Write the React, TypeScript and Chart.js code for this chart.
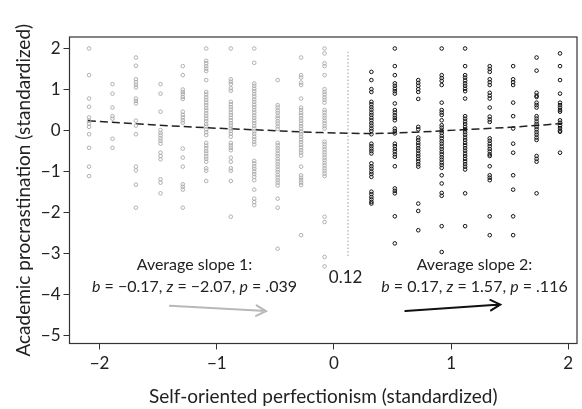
import React, { useEffect, useRef } from 'react';
import { Chart, registerables } from 'chart.js';

Chart.register(...registerables);

// ---------- data ----------
const grayX = [-2.09, -1.89, -1.69, -1.48, -1.29, -1.09, -0.88, -0.68, -0.48, -0.28, -0.08];
const grayY = [
  [1.99, 1.34, 0.77, 0.57, 0.31, 0.23, 0.16, 0.08, -0.10, -0.43, -0.89, -1.12],
  [1.12, 0.89, 0.55, 0.34, 0.28, -0.21, -0.43],
  [1.77, 1.57, 1.24, 1.17, 1.10, 1.04, 0.77, 0.71, 0.65, 0.23, 0.11, -0.10, -0.89, -0.98, -1.33, -1.89],
  [1.12, 0.89, 0.45, 0.0, -0.07, -0.13, -0.20, -0.26, -0.33, -0.55, -0.63, -0.71, -1.20, -1.28, -1.54],
  [1.56, 1.34, 0.99, 0.93, 0.88, 0.81, 0.76, 0.45, 0.37, 0.31, 0.24, 0.18, -0.45, -0.67, -0.89, -1.32, -1.38, -1.45, -1.89],
  [1.99, 1.69, 1.63, 1.56, 1.50, 1.44, 1.22, 0.93, 0.87, 0.80, 0.74, 0.67, 0.61, 0.54, 0.48, 0.41, 0.35, 0.28, 0.22, 0.15, 0.09, 0.02, -0.05, -0.12, -0.31, -0.38, -0.44, -0.51, -0.57, -0.64, -0.70, -0.77, -0.93, -0.99, -1.24],
  [1.99, 1.24, 1.18, 1.12, 1.02, 0.96, 0.69, 0.63, 0.56, 0.50, 0.43, 0.37, 0.30, 0.24, 0.17, 0.11, 0.04, -0.02, -0.09, -0.16, -0.31, -0.37, -0.43, -0.49, -0.67, -0.77, -0.93, -0.99, -1.24, -2.11],
  [1.99, 1.64, 1.14, 1.08, 1.01, 0.95, 0.88, 0.82, 0.75, 0.69, 0.62, 0.56, 0.49, 0.43, 0.36, 0.30, 0.23, 0.17, 0.10, 0.04, -0.03, -0.09, -0.16, -0.22, -0.29, -0.35, -0.75, -0.81, -0.88, -0.94, -1.01, -1.07, -1.14, -1.22, -1.45, -1.67, -1.75, -1.83],
  [1.22, 0.61, 0.55, 0.48, 0.42, 0.35, 0.29, 0.22, 0.16, 0.09, 0.03, -0.31, -0.37, -0.44, -0.50, -0.57, -0.63, -0.70, -0.76, -0.83, -0.89, -0.96, -1.02, -1.09, -1.15, -1.22, -1.28, -1.35, -1.67, -1.89, -2.89],
  [1.77, 1.34, 1.28, 1.16, 1.10, 0.77, 0.55, 0.49, 0.42, 0.36, 0.29, 0.23, 0.16, 0.10, 0.03, -0.03, -0.10, -0.16, -0.23, -0.29, -0.36, -0.42, -0.49, -0.55, -0.62, -0.89, -1.10, -1.16, -1.22, -1.28, -1.34, -2.56],
  [1.99, 1.87, 1.63, 1.56, 1.34, 1.00, 0.93, 0.87, 0.80, 0.74, 0.67, 0.49, 0.43, 0.36, 0.30, 0.23, 0.17, 0.10, 0.04, -0.28, -0.34, -0.41, -0.47, -0.54, -0.60, -0.67, -0.73, -0.80, -0.86, -0.93, -0.99, -1.06, -1.12, -2.11, -2.24, -3.09, -3.32],
];

const blackX = [0.32, 0.52, 0.72, 0.92, 1.12, 1.33, 1.53, 1.73, 1.93];
const blackY = [
  [1.42, 1.22, 1.00, 0.93, 0.69, 0.63, 0.56, 0.50, 0.43, 0.37, 0.30, 0.24, 0.17, 0.11, 0.04, -0.02, -0.10, -0.33, -0.39, -0.45, -0.51, -0.57, -0.81, -0.88, -0.94, -1.01, -1.07, -1.14, -1.50, -1.56, -1.63, -1.69, -1.75, -1.79],
  [1.99, 1.56, 1.34, 1.14, 1.08, 1.01, 0.95, 0.89, 0.65, 0.49, 0.43, 0.36, 0.30, 0.24, 0.04, -0.02, -0.08, -0.33, -0.39, -0.46, -0.52, -0.59, -0.65, -0.88, -1.42, -1.48, -1.54, -2.10, -2.76],
  [1.22, 1.15, 1.08, 1.00, 0.93, 0.76, 0.08, 0.02, -0.18, -0.24, -0.31, -0.37, -0.44, -0.50, -0.57, -0.63, -0.70, -0.76, -0.83, -0.89, -1.79, -1.97, -2.44],
  [1.99, 1.34, 1.27, 1.20, 1.10, 0.67, 0.49, 0.43, 0.37, 0.24, 0.12, 0.06, -0.01, -0.07, -0.14, -0.20, -0.27, -0.33, -0.40, -0.46, -0.53, -0.59, -0.66, -0.72, -0.79, -0.85, -0.92, -1.10, -1.30, -1.53, -1.60, -2.34, -2.97],
  [1.99, 1.56, 1.34, 1.28, 1.21, 1.14, 1.08, 1.01, 0.95, 0.77, 0.34, 0.28, 0.21, 0.15, 0.08, 0.02, -0.05, -0.11, -0.18, -0.24, -0.31, -0.37, -0.44, -0.50, -0.57, -0.63, -0.70, -0.76, -0.83, -0.89, -0.96, -1.54, -2.34],
  [1.56, 1.49, 1.42, 1.24, 1.17, 1.10, 0.91, 0.84, 0.77, 0.55, 0.33, 0.26, 0.20, -0.20, -0.26, -0.33, -0.39, -0.46, -0.52, -0.59, -0.63, -0.88, -1.10, -1.16, -1.22, -2.10, -2.56],
  [1.56, 1.24, 1.17, 1.10, 0.67, 0.34, 0.04, -0.33, -0.55, -1.10, -1.45, -2.10, -2.56],
  [1.77, 1.45, 0.91, 0.84, 0.81, 0.67, 0.61, 0.55, 0.34, 0.28, 0.21, 0.15, 0.08, 0.02, -0.05, -0.11, -0.18, -0.24, -0.63, -0.70, -0.77, -1.54],
  [1.87, 1.56, 1.22, 0.89, 0.67, 0.61, 0.55, 0.49, 0.45, 0.24, 0.18, 0.11, 0.05, -0.01, -0.04, -0.55],
];

// fitted (dashed) curve
const curveX = [-2.1, -1.6, -1.1, -0.6, -0.1, 0.3, 0.7, 1.1, 1.5, 1.95];
const curveY = [0.23, 0.14, 0.06, 0.0, -0.06, -0.08, -0.05, 0.01, 0.07, 0.16];

// cut point line
const cutX = 0.12;
const cutYFrom = -3.07;
const cutYTo = 1.91;
const cutLabel = '0.12';

const xTicks = [-2, -1, 0, 1, 2];
const yTicks = [-5, -4, -3, -2, -1, 0, 1, 2];
const xTitle = 'Self-oriented perfectionism (standardized)';
const yTitle = 'Academic procrastination (standardized)';

const slope1Head = 'Average slope 1:';
const slope1Stats: [string, boolean][] = [['b', true], [' = −0.17, ', false], ['z', true], [' = −2.07, ', false], ['p', true], [' = .039', false]];
const slope2Head = 'Average slope 2:';
const slope2Stats: [string, boolean][] = [['b', true], [' = 0.17, ', false], ['z', true], [' = 1.57, ', false], ['p', true], [' = .116', false]];

// annotation anchors (data coordinates)
const note1 = { x: -1.19, yHead: -3.29, yStats: -3.83 };
const note2 = { x: 1.20, yHead: -3.29, yStats: -3.83 };
const cutLabelPos = { x: 0.10, y: -3.59 };
const arrow1 = { x1: -1.40, y1: -4.28, x2: -0.58, y2: -4.41 };
const arrow2 = { x1: 0.61, y1: -4.41, x2: 1.42, y2: -4.25 };

const FONT = 'Lato, "Open Sans", sans-serif';
const NOTE_SIZE = 16;

function fmt(v: number) {
  return v < 0 ? '−' + Math.abs(v) : String(v);
}

const annotPlugin = {
  id: 'annot',
  beforeDatasetsDraw(chart: any) {
    const { ctx, chartArea } = chart;
    ctx.save();
    ctx.strokeStyle = '#333';
    ctx.lineWidth = 1.2;
    ctx.strokeRect(chartArea.left, chartArea.top, chartArea.right - chartArea.left, chartArea.bottom - chartArea.top);
    ctx.restore();
  },
  afterDatasetsDraw(chart: any) {
    const { ctx } = chart;
    const xs = chart.scales.x;
    const ys = chart.scales.y;
    const px = (v: number) => xs.getPixelForValue(v);
    const py = (v: number) => ys.getPixelForValue(v);
    ctx.save();
    ctx.fillStyle = '#222';
    ctx.textBaseline = 'middle';

    const drawCentered = (t: string, x: number, y: number) => {
      ctx.font = `${NOTE_SIZE}px ${FONT}`;
      ctx.textAlign = 'center';
      ctx.fillText(t, px(x), py(y));
    };
    const drawSegments = (segs: [string, boolean][], x: number, y: number) => {
      ctx.textAlign = 'left';
      let total = 0;
      const widths = segs.map(([t, it]) => {
        ctx.font = `${it ? 'italic ' : ''}${NOTE_SIZE}px ${FONT}`;
        const w = ctx.measureText(t).width;
        total += w;
        return w;
      });
      let cx = px(x) - total / 2;
      segs.forEach(([t, it], i) => {
        ctx.font = `${it ? 'italic ' : ''}${NOTE_SIZE}px ${FONT}`;
        ctx.fillText(t, cx, py(y));
        cx += widths[i];
      });
    };

    drawCentered(slope1Head, note1.x, note1.yHead);
    drawSegments(slope1Stats, note1.x, note1.yStats);
    drawCentered(slope2Head, note2.x, note2.yHead);
    drawSegments(slope2Stats, note2.x, note2.yStats);
    ctx.font = `17px ${FONT}`;
    ctx.textAlign = 'center';
    ctx.fillText(cutLabel, px(cutLabelPos.x), py(cutLabelPos.y));

    const arrow = (a: any, color: string) => {
      const x1 = px(a.x1), y1 = py(a.y1), x2 = px(a.x2), y2 = py(a.y2);
      const ang = Math.atan2(y2 - y1, x2 - x1);
      const hl = 11;
      ctx.strokeStyle = color;
      ctx.lineWidth = 2;
      ctx.lineCap = 'round';
      ctx.beginPath();
      ctx.moveTo(x1, y1);
      ctx.lineTo(x2, y2);
      ctx.moveTo(x2 - hl * Math.cos(ang - 0.5), y2 - hl * Math.sin(ang - 0.5));
      ctx.lineTo(x2, y2);
      ctx.lineTo(x2 - hl * Math.cos(ang + 0.5), y2 - hl * Math.sin(ang + 0.5));
      ctx.stroke();
    };
    arrow(arrow1, '#b8b8b8');
    arrow(arrow2, '#111');
    ctx.restore();
  },
};

export default function App() {
  const ref = useRef<HTMLCanvasElement>(null);
  useEffect(() => {
    const grayPts: { x: number; y: number }[] = [];
    grayX.forEach((x, i) => grayY[i].forEach((y) => grayPts.push({ x, y })));
    const blackPts: { x: number; y: number }[] = [];
    blackX.forEach((x, i) => blackY[i].forEach((y) => blackPts.push({ x, y })));
    const curvePts = curveX.map((x, i) => ({ x, y: curveY[i] }));

    const chart = new Chart(ref.current!, {
      type: 'scatter',
      data: {
        datasets: [
          {
            data: grayPts,
            pointRadius: 1.8,
            pointBorderWidth: 0.9,
            borderColor: '#a8a8a8',
            backgroundColor: 'transparent',
          } as any,
          {
            data: blackPts,
            pointRadius: 1.8,
            pointBorderWidth: 1,
            borderColor: '#111',
            backgroundColor: 'transparent',
          } as any,
          {
            type: 'line',
            data: [{ x: cutX, y: cutYFrom }, { x: cutX, y: cutYTo }],
            borderColor: '#999',
            borderWidth: 1,
            borderDash: [1.5, 2],
            pointRadius: 0,
            fill: false,
          } as any,
          {
            type: 'line',
            data: curvePts,
            borderColor: '#222',
            borderWidth: 1.5,
            borderDash: [8, 4],
            pointRadius: 0,
            fill: false,
            cubicInterpolationMode: 'monotone',
          } as any,
        ],
      },
      options: {
        animation: false,
        responsive: false,
        devicePixelRatio: 1,
        layout: { padding: { top: 37, right: 1, left: 0, bottom: 0 } },
        plugins: { legend: { display: false }, tooltip: { enabled: false } },
        scales: {
          x: {
            type: 'linear',
            min: -2.257,
            max: 2.075,
            afterBuildTicks: (s: any) => { s.ticks = xTicks.map((v) => ({ value: v })); },
            afterFit: (s: any) => { s.height = 65.5; },
            grid: { drawOnChartArea: false, drawTicks: true, tickLength: 6, color: '#333', lineWidth: 1 },
            border: { display: false },
            ticks: { color: '#222', font: { family: FONT, size: 17 }, padding: 4, callback: (v: any) => fmt(Number(v)), maxRotation: 0 },
            title: { display: true, text: xTitle, color: '#222', font: { family: FONT, size: 19 }, padding: { top: 0, bottom: 1 } },
          },
          y: {
            type: 'linear',
            min: -5.2,
            max: 2.27,
            afterBuildTicks: (s: any) => { s.ticks = yTicks.map((v) => ({ value: v })); },
            afterFit: (s: any) => { s.width = 69.5; },
            grid: { drawOnChartArea: false, drawTicks: true, tickLength: 6, color: '#333', lineWidth: 1 },
            border: { display: false },
            ticks: { color: '#222', font: { family: FONT, size: 17 }, padding: 3, callback: (v: any) => fmt(Number(v)) },
            title: { display: true, text: yTitle, color: '#222', font: { family: FONT, size: 19 }, padding: { top: 12, bottom: 0 } },
          },
        },
      },
      plugins: [annotPlugin],
    });
    return () => chart.destroy();
  }, []);

  return (
    <div style={{ position: 'absolute', left: 0, top: 0, width: 582, height: 409, background: '#fff' }}>
      <canvas ref={ref} width={582} height={409} style={{ width: 582, height: 409 }} />
    </div>
  );
}
